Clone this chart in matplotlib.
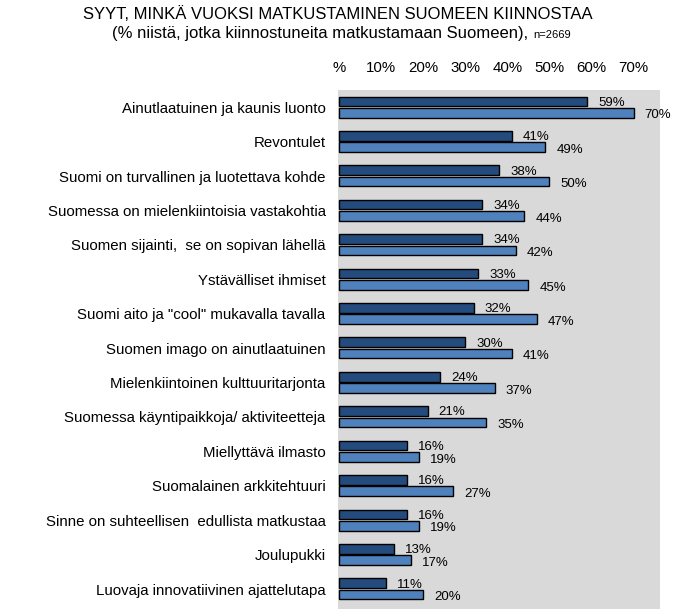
import matplotlib.pyplot as plt
import numpy as np

plt.rcParams['font.family'] = ['Liberation Sans', 'DejaVu Sans']

categories = [
    "Ainutlaatuinen ja kaunis luonto",
    "Revontulet",
    "Suomi on turvallinen ja luotettava kohde",
    "Suomessa on mielenkiintoisia vastakohtia",
    "Suomen sijainti,  se on sopivan lähellä",
    "Ystävälliset ihmiset",
    "Suomi aito ja \"cool\" mukavalla tavalla",
    "Suomen imago on ainutlaatuinen",
    "Mielenkiintoinen kulttuuritarjonta",
    "Suomessa käyntipaikkoja/ aktiviteetteja",
    "Miellyttävä ilmasto",
    "Suomalainen arkkitehtuuri",
    "Sinne on suhteellisen  edullista matkustaa",
    "Joulupukki",
    "Luovaja innovatiivinen ajattelutapa",
]
dark_vals = [59, 41, 38, 34, 34, 33, 32, 30, 24, 21, 16, 16, 16, 13, 11]
light_vals = [70, 49, 50, 44, 42, 45, 47, 41, 37, 35, 19, 27, 19, 17, 20]
xticks = [0, 10, 20, 30, 40, 50, 60, 70]
xticklabels = ["%", "10%", "20%", "30%", "40%", "50%", "60%", "70%"]

fig = plt.figure(figsize=(6.77, 6.09), dpi=100)
ax = fig.add_axes([338/677, 0, 322/677, 519/609])
ax.set_facecolor("#D9D9D9")

y = np.arange(len(categories))
h = 0.28
ax.barh(y - 0.17, dark_vals, height=h, color="#234B7D", edgecolor="black", linewidth=1)
ax.barh(y + 0.16, light_vals, height=h, color="#4F81BD", edgecolor="black", linewidth=1)

for yi, v in zip(y, dark_vals):
    ax.annotate(f"{v}%", (v, yi - 0.17), xytext=(8, -1), textcoords="offset points",
                va="center", ha="left", fontsize=9.5)
for yi, v in zip(y, light_vals):
    ax.annotate(f"{v}%", (v, yi + 0.16), xytext=(8, -2), textcoords="offset points",
                va="center", ha="left", fontsize=9.5)

ax.set_xlim(-0.3, 76.3)
ax.set_ylim(14.58, -0.5)
ax.xaxis.tick_top()
ax.set_xticks(xticks)
ax.set_xticklabels(xticklabels, fontsize=10.8)
ax.tick_params(axis="x", length=0, pad=11)
ax.set_yticks(y)
ax.set_yticklabels(categories, fontsize=10.8)
ax.tick_params(axis="y", length=0, pad=9)
for s in ax.spines.values():
    s.set_visible(False)

fig.text(0.4993, 0.977, "SYYT, MINKÄ VUOKSI MATKUSTAMINEN SUOMEEN KIINNOSTAA",
         ha="center", va="center", fontsize=12)
fig.text(0.787, 0.945, "(% niistä, jotka kiinnostuneita matkustamaan Suomeen), ",
         ha="right", va="center", fontsize=12)
fig.text(0.787, 0.943, "n=2669", ha="left", va="center", fontsize=8)

fig.savefig("out.png", dpi=100)
